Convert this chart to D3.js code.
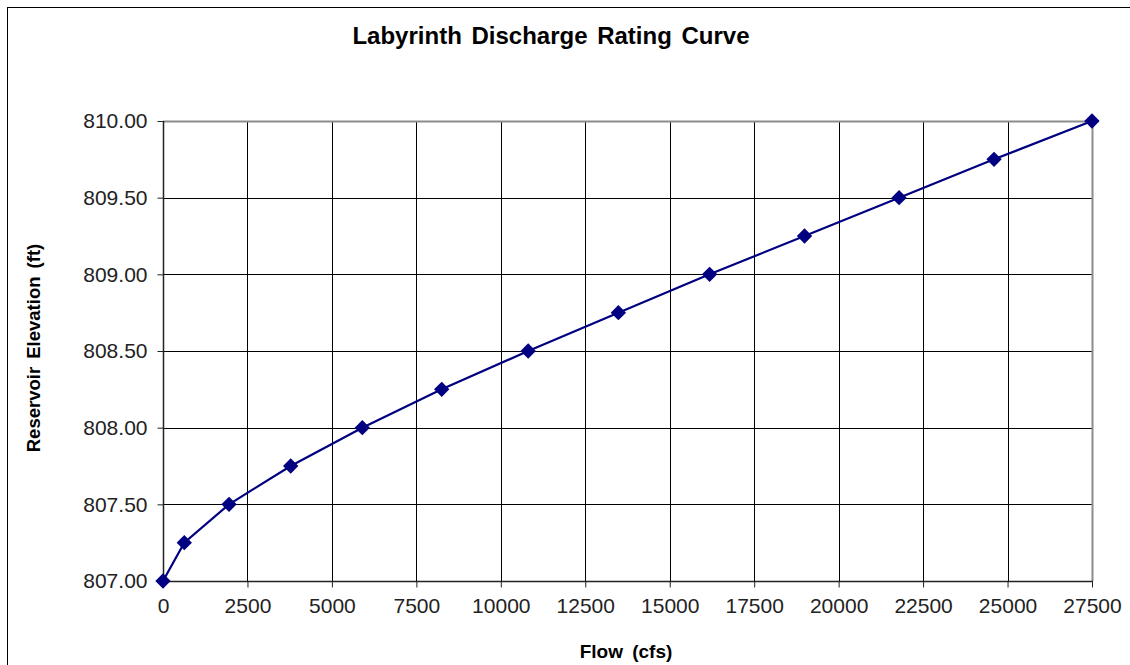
<!DOCTYPE html>
<html>
<head>
<meta charset="utf-8">
<script src="https://cdn.jsdelivr.net/npm/d3@7"></script>
<style>
  html, body { margin: 0; padding: 0; background: #fff; }
  svg { display: block; font-family: Arial, "Liberation Sans", sans-serif; }
</style>
</head>
<body>
<svg id="chart" width="1130" height="665"></svg>
<script>
// Labyrinth spillway rating: flow (cfs) vs reservoir elevation (ft)
const flowCfs = [0, 630, 1955, 3780, 5900, 8250, 10810, 13480, 16180, 18990, 21790, 24600, 27500];
const elevationFt = [807.00, 807.25, 807.50, 807.75, 808.00, 808.25, 808.50, 808.75, 809.00, 809.25, 809.50, 809.75, 810.00];
const xTicks = [0, 2500, 5000, 7500, 10000, 12500, 15000, 17500, 20000, 22500, 25000, 27500];
const yTicks = [807.0, 807.5, 808.0, 808.5, 809.0, 809.5, 810.0];

const titleText = "Labyrinth Discharge Rating Curve";
const xLabel = "Flow (cfs)";
const yLabel = "Reservoir Elevation (ft)";

const svg = d3.select("#chart");
const plot = { left: 163, right: 1092, top: 121, bottom: 581 };

// outer chart frame
svg.append("rect")
  .attr("x", 7.5).attr("y", 7.5)
  .attr("width", 1130).attr("height", 700)
  .attr("fill", "none").attr("stroke", "#000").attr("stroke-width", 1);

const x = d3.scaleLinear().domain([0, 27500]).range([plot.left, plot.right]);
const y = d3.scaleLinear().domain([807, 810]).range([plot.bottom, plot.top]);

// grid lines
const grid = svg.append("g");
grid.selectAll("line.v").data(xTicks.slice(1, -1)).join("line")
  .attr("x1", d => Math.round(x(d)) + 0.5).attr("x2", d => Math.round(x(d)) + 0.5)
  .attr("y1", plot.top).attr("y2", plot.bottom)
  .attr("stroke", "#000").attr("stroke-width", 1);
grid.selectAll("line.h").data(yTicks.slice(1, -1)).join("line")
  .attr("x1", plot.left).attr("x2", plot.right)
  .attr("y1", d => Math.round(y(d)) + 0.5).attr("y2", d => Math.round(y(d)) + 0.5)
  .attr("stroke", "#000").attr("stroke-width", 1);

// top and right plot-area border
svg.append("path")
  .attr("d", `M${plot.left},${plot.top + 0.5}H${plot.right + 0.5}V${plot.bottom}`)
  .attr("fill", "none").attr("stroke", "#8c8c8c").attr("stroke-width", 2);

// axes
const xAxis = d3.axisBottom(x).tickValues(xTicks).tickSize(6).tickPadding(6).tickFormat(d3.format("d"));
const yAxis = d3.axisLeft(y).tickValues(yTicks).tickSize(6).tickPadding(10).tickFormat(d3.format(".2f"));

const gx = svg.append("g").attr("transform", `translate(0,${plot.bottom + 0.5})`).call(xAxis);
const gy = svg.append("g").attr("transform", `translate(${plot.left + 0.5},0)`).call(yAxis);

[gx, gy].forEach(g => {
  g.select(".domain").attr("stroke", "#222").attr("stroke-width", 1.5);
  g.selectAll(".tick line").attr("stroke", "#222");
  g.selectAll(".tick text")
    .attr("fill", "#222")
    .style("font-family", "Arial, 'Liberation Sans', sans-serif")
    .style("font-size", "21px");
});
gx.select(".domain").attr("d", `M${plot.left},0H${plot.right + 1}`);
gy.select(".domain").attr("d", `M0,${plot.top}V${plot.bottom + 1}`);
gx.selectAll(".tick text").attr("dy", "0.92em");

// series line and markers
const line = d3.line().x((d, i) => x(flowCfs[i])).y(d => y(d));
svg.append("path")
  .datum(elevationFt)
  .attr("d", line)
  .attr("fill", "none")
  .attr("stroke", "#000080")
  .attr("stroke-width", 2.2);

const diamond = d3.symbol().type(d3.symbolDiamond2).size(150);
svg.selectAll("path.marker").data(elevationFt).join("path")
  .attr("class", "marker")
  .attr("transform", (d, i) => `translate(${x(flowCfs[i])},${y(d)})`)
  .attr("d", diamond)
  .attr("fill", "#000080");

// titles
svg.append("text")
  .attr("x", 551).attr("y", 44)
  .attr("text-anchor", "middle")
  .style("font-size", "24px").style("font-weight", "bold")
  .style("word-spacing", "3px")
  .attr("fill", "#000")
  .text(titleText);

svg.append("text")
  .attr("x", 626).attr("y", 658)
  .attr("text-anchor", "middle")
  .style("font-size", "19px").style("font-weight", "bold")
  .style("word-spacing", "4px")
  .attr("fill", "#000")
  .text(xLabel);

svg.append("text")
  .attr("transform", "translate(40,348) rotate(-90)")
  .attr("text-anchor", "middle")
  .style("font-size", "18.5px").style("font-weight", "bold")
  .style("word-spacing", "3px")
  .attr("fill", "#000")
  .text(yLabel);
</script>
</body>
</html>
